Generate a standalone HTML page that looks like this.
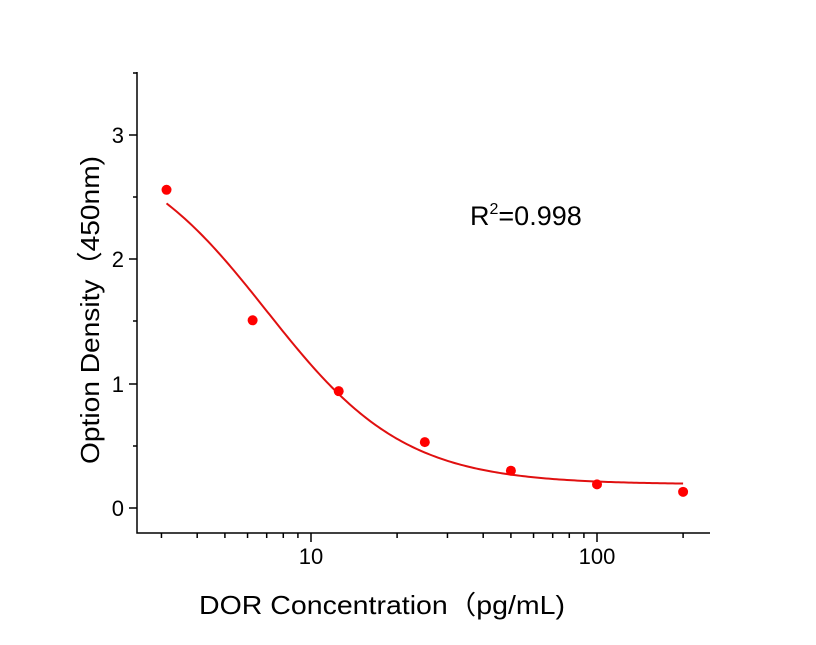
<!DOCTYPE html>
<html><head><meta charset="utf-8"><style>
body{margin:0;background:#fff}
text{font-family:"Liberation Sans","Noto Sans CJK SC",sans-serif;fill:#000}
</style></head><body>
<svg id="s" width="816" height="640" xmlns="http://www.w3.org/2000/svg">
<g stroke="#000" stroke-width="1.5" fill="none">
<path d="M137,72 V533 H710"/>
<path d="M129,508H137M129,384H137M129,259H137M129,135H137"/>
<path d="M133,446H137M133,321H137M133,197H137M133,73H137"/>
</g>
<g id="xt" stroke="#000" stroke-width="1.5"></g>
<g font-size="22" text-anchor="end">
<text x="124" y="516">0</text><text x="124" y="392">1</text><text x="124" y="267">2</text><text x="124" y="143">3</text>
</g>
<g font-size="22" text-anchor="middle">
<text x="311" y="564">10</text><text x="597" y="564">100</text>
</g>
<text x="382" y="614" font-size="26" text-anchor="middle" textLength="366" lengthAdjust="spacingAndGlyphs">DOR Concentration（pg/mL)</text>
<text transform="translate(99,310) rotate(-90)" font-size="26" text-anchor="middle" textLength="308" lengthAdjust="spacingAndGlyphs">Option Density（450nm)</text>
<text x="470" y="225" font-size="27">R<tspan dy="-11" font-size="16">2</tspan><tspan dy="11">=0.998</tspan></text>
<path id="c" stroke="#e01010" stroke-width="2" fill="none"/>
<g id="p" fill="#f00"></g>
</svg>
<script>
function X(v){return 311+286*Math.log10(v/10)}
function Y(v){return 508-124.3*v}
var xt='';
for(var d=1;d<=100;d*=10)for(var k=1;k<10;k++){var v=d*k;var x=X(v);if(x<140||x>708)continue;var L=(k==1)?9:5;xt+='<line x1="'+x+'" y1="533" x2="'+x+'" y2="'+(533+L)+'"/>';}
document.getElementById('xt').innerHTML=xt;
function f(x){return 0.19+2.79/(1+Math.pow(x/7,1.8))}
var p='';for(var i=0;i<=200;i++){var lx=Math.log10(3.125)+i/200*(Math.log10(200)-Math.log10(3.125));var x=Math.pow(10,lx);p+=(i?'L':'M')+X(x).toFixed(2)+','+Y(f(x)).toFixed(2);}
document.getElementById('c').setAttribute('d',p);
var pts=[[3.125,2.56],[6.25,1.51],[12.5,0.94],[25,0.53],[50,0.30],[100,0.19],[200,0.13]];
var s='';pts.forEach(function(q){s+='<circle cx="'+X(q[0])+'" cy="'+Y(q[1])+'" r="5"/>';});
document.getElementById('p').innerHTML=s;
</script>
</body></html>
